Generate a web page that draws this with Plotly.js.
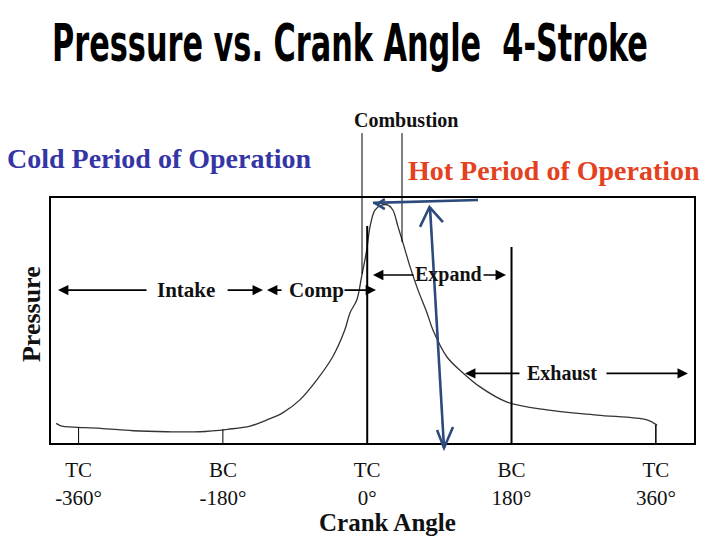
<!DOCTYPE html>
<html>
<head>
<meta charset="utf-8">
<script src="https://cdn.plot.ly/plotly-3.0.1.min.js"></script>
<style>html,body{margin:0;padding:0;background:#fff;}#chart{width:720px;height:540px;}</style>
</head>
<body>
<div id="chart"></div>
<script>
// ---- data (crank angle in degrees, pressure in relative units 0-100) ----
const crankAngle = [-388, -381, -367, -333, -292, -250, -209, -174, -146, -125, -105, -84, -63, -43, -28, -21.5, -13, -7, -0.6, 3.5, 9.7, 18, 26, 32, 38.4, 44.7, 53.4, 63.4, 74.6, 82, 99.5, 119.5, 140.7, 174.4, 224, 287, 349, 361.5];
const pressure   = [8.0, 6.9, 6.5, 6.0, 5.0, 4.6, 4.6, 5.6, 6.9, 9.4, 12.4, 17.6, 25.7, 35.2, 46.1, 53.1, 58.4, 67.9, 78.8, 88.3, 95.1, 97.1, 97.1, 95.1, 88.3, 81.6, 72.0, 62.4, 53.1, 46.1, 35.1, 28.6, 22.9, 16.7, 13.5, 11.4, 9.4, 7.3];

const tickAngles = [-360, -180, 0, 180, 360];
const tickLabels = ['TC<br>-360°', 'BC<br>-180°', 'TC<br>0°', 'BC<br>180°', 'TC<br>360°'];

// vertical marker lines at dead centres (height reached on the diagram)
const strokeLineTops = [6.5, 5.6, 88.6, 80, 7.3];
const strokeLineWidths = [1, 1, 2, 2, 1.5];

// combustion interval boundaries
const combustionAngles = [-6.5, 43.4];
const combustionBottoms = [69, 82];

// phase arrows: head angle, tail angle, pressure level
const arrowHeads  = [-385.7, -130, -125, 11, 7.2, 173.1, 122, 400];
const arrowTails  = [-273.4, -176, -105, -30.2, 59.6, 143.2, 191.8, 296.6];
const arrowLevels = [62.4, 62.4, 62.4, 62.4, 68.6, 68.6, 28.4, 28.4];

const phaseNames  = ['Intake', 'Comp', 'Expand', 'Exhaust'];
const phaseAngles = [-226.5, -63.8, 102, 243];
const phaseLevels = [62.4, 62.4, 68.6, 28.6];
const phaseSizes  = [21, 21, 20, 20];

const blue = '#2c4a7c';
const serif = 'Liberation Serif, Times New Roman, serif';

const shapes = [];
tickAngles.forEach((a, i) => {
  shapes.push({type: 'line', xref: 'x', yref: 'y', x0: a, x1: a, y0: 0, y1: strokeLineTops[i],
    line: {color: '#000', width: strokeLineWidths[i]}});
});
combustionAngles.forEach((a, i) => {
  shapes.push({type: 'line', xref: 'x', yref: 'paper', x0: a, x1: a, y0: 1.265, y1: combustionBottoms[i] / 100,
    line: {color: '#000', width: 1}});
});
// hand-drawn blue marks (angle, paper-y)
const bluePaths = [
  'M7.2,0.980 L138.2,0.992',
  'M22,0.995 L12,0.975 L22,0.955',
  'M78.3,0.963 L95.8,-0.020',
  'M65.9,0.882 L77.7,0.963 L94.5,0.902',
  'M87.1,0.053 L95.8,-0.020 L107.0,0.065'
];
bluePaths.forEach(p => shapes.push({type: 'path', xref: 'x', yref: 'paper', path: p,
  line: {color: blue, width: 2.6}}));

const annotations = [];
arrowHeads.forEach((h, i) => {
  annotations.push({xref: 'x', yref: 'y', axref: 'x', ayref: 'y', x: h, y: arrowLevels[i],
    ax: arrowTails[i], ay: arrowLevels[i], text: '', showarrow: true, arrowhead: 2,
    arrowsize: 1.3, arrowwidth: 1.6, arrowcolor: '#000', standoff: 0, startstandoff: 0});
});
phaseNames.forEach((n, i) => {
  annotations.push({xref: 'x', yref: 'y', x: phaseAngles[i], y: phaseLevels[i], text: n,
    showarrow: false, xanchor: 'center', yanchor: 'middle',
    font: {family: serif, size: phaseSizes[i], color: '#111', weight: 'bold'}});
});
annotations.push(
  {xref: 'paper', yref: 'paper', x: 0.168, y: 1.161, text: 'Cold Period of Operation', showarrow: false,
   xanchor: 'center', yanchor: 'middle', font: {family: serif, size: 28, color: '#3535a5', weight: 'bold'}},
  {xref: 'paper', yref: 'paper', x: 0.783, y: 1.112, text: 'Hot Period of Operation', showarrow: false,
   xanchor: 'center', yanchor: 'middle', font: {family: serif, size: 28, color: '#e4411e', weight: 'bold'}},
  {xref: 'paper', yref: 'paper', x: 0.552, y: 1.318, text: 'Combustion', showarrow: false,
   xanchor: 'center', yanchor: 'middle', font: {family: serif, size: 20, color: '#111', weight: 'bold'}},
  {xref: 'paper', yref: 'paper', x: 0.524, y: -0.326, text: 'Crank Angle', showarrow: false,
   xanchor: 'center', yanchor: 'middle', font: {family: serif, size: 25, color: '#111', weight: 'bold'}},
  {xref: 'paper', yref: 'paper', x: -0.031, y: 0.5265, text: 'Pressure', showarrow: false, textangle: -90,
   xanchor: 'center', yanchor: 'middle', font: {family: serif, size: 26, color: '#111', weight: 'bold'}}
);

const trace = {
  x: crankAngle, y: pressure, type: 'scatter', mode: 'lines',
  line: {color: '#333', width: 1.3, shape: 'spline', smoothing: 1},
  hoverinfo: 'skip', showlegend: false
};

const layout = {
  width: 720, height: 540,
  margin: {l: 51, r: 26, t: 198, b: 97, pad: 0},
  paper_bgcolor: '#fff', plot_bgcolor: '#fff',
  title: {text: 'Pressure vs. Crank Angle  4-Stroke', xref: 'container', yref: 'container',
    x: 350 / 720, y: 1 - 43 / 540, xanchor: 'center', yanchor: 'middle',
    font: {family: 'Liberation Sans Narrow, DejaVu Sans Condensed, Liberation Sans, Arial, sans-serif', size: 52, color: '#000', weight: 900}},
  xaxis: {range: [-394.4, 407.6], tickvals: tickAngles, ticktext: tickLabels, ticks: '',
    showgrid: false, zeroline: false, showline: true, mirror: true, linecolor: '#000', linewidth: 2,
    tickfont: {family: serif, size: 21, color: '#111'}, ticklabelstandoff: 7, fixedrange: true},
  yaxis: {range: [0, 100], showticklabels: false, ticks: '', showgrid: false, zeroline: false,
    showline: true, mirror: true, linecolor: '#000', linewidth: 2, fixedrange: true},
  shapes: shapes,
  annotations: annotations
};

Plotly.newPlot('chart', [trace], layout, {staticPlot: true, displayModeBar: false}).then(() => {
  const t = document.querySelector('.gtitle');
  if (t) {
    const bb = t.getBBox();
    const s = 596 / bb.width;
    const cx = 350;
    const prev = t.getAttribute('transform') || '';
    t.setAttribute('transform', prev + ' translate(' + (cx * (1 - s)) + ',0) scale(' + s + ',1)');
  }
});
</script>
</body>
</html>
